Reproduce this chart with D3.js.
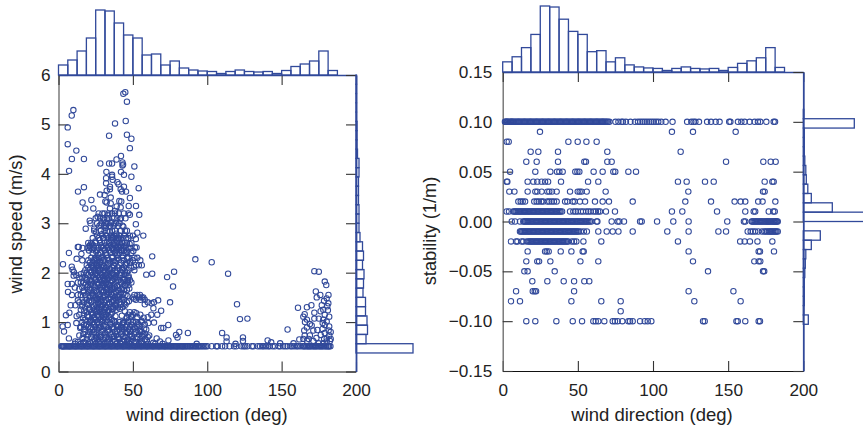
<!DOCTYPE html>
<html>
<head>
<meta charset="utf-8">
<script src="https://cdn.jsdelivr.net/npm/d3@7"></script>
<style>
html, body { margin: 0; padding: 0; background: #fff; overflow: hidden; }
text { font-family: "Liberation Sans", Arial, sans-serif; fill: #222; }
</style>
</head>
<body>
<svg id="canvas"></svg>
<script>
let width = 863
let height = 430
let blue = "#31499a"

// histogram counts
let dirBinCounts = [20,30,48,74,130,128,104,80,74,40,42,20,28,14,10,8,7,3,7,10,7,6,7,3,9,17,22,28,48,9]
let speedBinCounts = [0,0,114,20,23,22,19,19,14,15,16,13,15,13,8,6,6,6,5,5,5,6,6,3,2,2,2,1,1,1,1,1]
let stabBinCounts = [0,0,0,0,0,10,1,2,2,2,3,4,5,16,34,0,400,58,16,9,6,5,3,2,2,2,102,1,0,0,0,0]

// left panel: scattered points [direction, speed]
let speedPoints = [
[44.9,5.65],[43.6,5.62],[46,5.46],[10,5.29],[8.9,5.18],[45.2,5.07],[38,5.02],[6.2,4.94],[46,4.79],[49,4.71],[34,4.77],[6.2,4.6],[48,4.52],[12,4.47],[42,4.36],[39,4.29],[9,4.3],[17.1,4.3],[28.1,4.21],[34,4.21],[36,4.21],[43,4.23],[43.4,4.19],[43,4.17],[51,4.15],[7.1,4.06],[32.2,4.04],[42,4.04],[36,3.98],[36,3.94],[44,3.98],[49,3.94],[32,3.91],[36.4,3.88],[32,3.81],[39.6,3.83],[40.4,3.79],[17.1,3.73],[13.1,3.64],[34.6,3.74],[44,3.74],[41.8,3.69],[42.7,3.64],[45.4,3.64],[53.9,3.71],[27.9,3.58],[31,3.57],[32.4,3.66],[34.6,3.69],[48,3.51],[22.1,3.47],[16.2,3.42],[31.5,3.44],[32.4,3.42],[40.9,3.45],[42.2,3.44],[18,3.3],[23.4,3.3],[34.6,3.3],[39.1,3.34],[41.8,3.32],[47.2,3.35],[52.1,3.35],[35.1,3.52],[35.1,3.4],[38,3.25],
[21,3.05],[18.3,2.89],[24,2.89],[3,2.17],[7,2.4],[13,2.52],[13.6,2.52],[16.2,2.5],[12.2,2.28],[15.4,2.38],[16,2.25],[8.9,2.12],[9.5,2.06],[10.4,2.01],[10.2,1.94],[15,1.97],[6.2,1.77],[9,1.77],[6.4,1.61],[9,1.55],[13,1.55],[14,1.67],[8.2,1.34],[13,1.44],[11.3,1.34],[7.3,1.19],[5,1.14],[12.2,1.12],[12,0.98],[6.2,0.94],[2.8,0.91],[3.7,0.81],[7,0.67],[14,0.73],[11.3,0.61],[16.7,0.76],[17.1,0.94],
[92,2.27],[103,2.21],[63,2.33],[77.7,2.02],[73,1.91],[77,1.72],[75,1.4],[67,1.44],[63,1.98],[59,1.96],[57,2.75],[52,2.98],[53,2.81],[52,2.68],[51.4,2.51],[52.5,2.51],[50.3,2.44],[44.7,2.85],[54.3,3.17],[48,3.17],
[69,1.23],[66.4,1.15],[62.4,1.15],[63.8,1.28],[62.6,1.38],[64.2,1.4],[58,1.36],[57,1.5],[54.8,1.55],[50.8,1.47],[57.3,1.09],[64.2,0.99],[60.4,0.98],[73.8,0.94],[70.5,0.88],[69,0.88],[81.2,0.8],[79,0.74],[80,0.69],[87,0.78],[73.9,0.63],[66,0.67],[61,0.73],[68.2,0.61],[92.9,0.56],
[114,1.98],[120,1.36],[122,1.06],[127,1.07],[110,0.78],[113,0.69],[113,0.61],[119,0.56],[124,0.69],[124,0.62],[140.6,0.63],[143,0.59],[149,0.57],[154,0.85],
[161,1.29],[167,1.3],[170,1.34],[172,2.03],[175,2.02],[179,1.82],[180,1.75],[173,1.62],[176,1.55],[181.5,1.55],[180.3,1.48],[173.6,1.5],[178.5,1.43],[177,1.34],[180.7,1.32],[178,1.25],[172,1.19],[165.5,1.16],[164.6,1.11],[167,1.05],[169,0.96],[165.7,1],[167,0.89],[172,1.07],[175,1.07],[179,1.15],[182,1.11],[178,1.05],[180.3,1.01],[182,0.91],[179,0.94],[177.5,0.86],[171.3,0.83],[174,0.84],[179,0.78],[182,0.73],[180.3,0.67],[182.5,0.62],[180.3,0.61],[165.5,0.73],[169,0.73],[161.9,0.65],[164.6,0.66],[167,0.62],[168.2,0.66],[171.3,0.62],[158,0.57],[175,0.57],[178,0.57]
]

// left panel: more of the cloud, points between the levels below
let cloudExtra = [
[26.3,3.13],[30.7,3.07],[33.2,3.16],[35.6,3.03],[28.4,2.97],[31.8,2.91],[37.4,2.98],[41.3,3.08],[43.6,2.93],[25.2,2.82],[29.1,2.78],[34.3,2.83],[38.9,2.79],[36.7,2.72],[40.8,2.67],[42.6,2.61],[39.3,2.63],[37.1,2.57],[35.2,2.66],[32.8,2.62],[30.4,2.71],[27.6,2.66],[24.7,2.63],[22.6,2.57],[20.8,2.53],[22.9,2.47],[25.3,2.43],[28.7,2.52],[31.2,2.47],[33.7,2.53],[36.4,2.48],[38.2,2.43],[40.3,2.52],[42.4,2.46],[44.2,2.53],[46.3,2.42],[47.8,2.58],[26.8,2.37],[29.6,2.33],[32.3,2.36],[35.8,2.32],[39.4,2.37],[43.3,2.34],[46.2,2.29],[24.3,2.28],[28.1,2.22],[30.8,2.27],[33.4,2.18],[36.8,2.23],[40.7,2.26],[45.2,2.17],[48.3,2.23],[50.7,2.12],[22.8,2.13],[25.7,2.16],[27.9,2.08],[30.6,2.13],[34.7,2.07],[37.3,2.14],[39.6,2.03],[42.7,2.09],[21.8,2.02],[24.6,1.97],[26.7,2.03],[29.3,1.96],[31.6,2.04],[34.2,1.93],[36.4,1.98],[38.7,1.92],[41.3,1.96],[44.6,2.03],[47.2,1.93],[18.7,1.88],[22.3,1.83],[25.2,1.87],[27.8,1.92],[30.7,1.83],[33.1,1.88],[35.7,1.83],[37.6,1.87],[41.8,1.82],[44.3,1.87],[46.6,1.82],[19.6,1.72],[21.8,1.77],[24.3,1.72],[26.8,1.78],[29.2,1.72],[31.7,1.77],[34.6,1.72],[37.2,1.67],[39.3,1.73],[42.4,1.67],[44.8,1.73],[47.6,1.68],[16.8,1.63],[22.6,1.58],[25.6,1.63],[27.7,1.57],[30.3,1.63],[32.8,1.67],[35.3,1.57],[38.2,1.62],[40.6,1.52],[43.7,1.58],[46.3,1.53],[18.3,1.48],[20.6,1.43],[23.2,1.53],[26.4,1.47],[28.6,1.42],[30.9,1.52],[33.6,1.47],[36.7,1.43],[38.8,1.38],[41.7,1.47],[44.2,1.37],[47.3,1.42],[15.7,1.32],[19.2,1.37],[23.8,1.33],[26.7,1.38],[29.3,1.33],[31.8,1.28],[34.3,1.37],[36.6,1.27],[38.4,1.32],[41.2,1.27],[44.6,1.22],[17.3,1.23],[20.7,1.27],[23.3,1.18],[25.8,1.22],[28.4,1.27],[30.7,1.17],[33.2,1.23],[35.6,1.17],[38.3,1.12],[42.6,1.13],[45.8,1.08],[48.7,1.12],[52.3,1.18],[55.8,1.03],[16.4,1.08],[19.3,1.13],[21.7,1.03],[24.2,1.08],[26.6,1.13],[29.4,1.03],[31.8,1.07],[34.7,0.97],[37.2,1.02],[40.3,0.93],[43.2,0.98],[46.7,1.03],[49.8,0.93],[53.2,0.97],[57.6,0.87],[14.6,0.88],[18.4,0.93],[21.3,0.87],[23.8,0.97],[27.3,0.88],[30.2,0.92],[33.4,0.83],[36.3,0.87],[39.2,0.82],[42.6,0.87],[45.3,0.78],[48.2,0.83],[51.3,0.87],[54.6,0.82],[58.3,0.76],[16.2,0.68],[19.6,0.73],[22.7,0.77],[25.2,0.68],[28.3,0.73],[31.4,0.78],[34.2,0.67],[37.3,0.72],[40.6,0.67],[43.7,0.72],[46.4,0.63],[49.3,0.72],[52.6,0.67],[56.2,0.72],[59.4,0.63],[63.7,0.58],[18.2,0.58],[24.6,0.62],[30.3,0.57],[36.2,0.62],[41.3,0.58],[47.3,0.57],[51.2,0.6],[55.3,0.58],[165.2,0.83],[170.2,0.93],[173.4,0.68],[176.3,0.74],[178.6,0.66],[181.6,0.83],[181.1,1.24],[176.2,1.22],[181.4,1.38],[177.6,0.98],[183,0.8],[183,0.66]
]

// left panel: the dense cloud, one list of directions per speed level
let cloudSpeeds = [3.2,3.1,3,2.95,2.85,2.75,2.7,2.6,2.55,2.5,2.45,2.4,2.3,2.25,2.2,2.15,2.1,2.05,2,1.95,1.9,1.85,1.8,1.75,1.7,1.65,1.6,1.55,1.5,1.45,1.4,1.35,1.3,1.25,1.2,1.15,1.1,1.05,1,0.95,0.9,0.85,0.8,0.75,0.7,0.65,0.6,0.56,0.51,0.51]
let cloudDirs = [
[27,29.5,31,33.5,36,38,40.5,44,47],
[25,28,30,32.5,34,37,39.5,42,45],
[21.5,26,29,31.5,33,35.5,38.5,41],
[27.5,30.5,32,34.5,37,40,43],
[24,28.5,31,33,36,38,42,46],
[26,29.5,32,35,37.5,39,41.5,44,48,50],
[23,27,30,33.5,36,38.5,40,43,45.5,47],
[20,22,25,28,31,34,37,39,41,43,44.5,46,49],
[21,23.5,29,32,35,38,40,42,45],
[19.5,21.5,24,27,30,33,36,38.5,41,43,47,48.5],
[20.5,26,31,34,37,39.5,42,44,46],
[23,28,32,35,38,41,45,49],
[22,25,27,29,33,36,40,43,47,51,53],
[20,24,26,30,34,39,44,50,55],
[21,23,25.5,28,31,35,38,42,46,48],
[19,22,24,27,29,33,37,41,45,52,54,56],
[20,23,25,26.5,29.5,32,36,40,44,49],
[18,21,24,27,30,34,38,43,47,51],
[17,19,22,25,28,31,33,36,39,42,46],
[12,20,23,26,29,32,35,37,41,45],
[14,16,18,24,27,30,34,38,43,47],
[19,21,25,28,31,33,36,40,44,48],
[13,15,17,22,26,29,32,35,39,42,46,49],
[18,20,23,27,30,34,37,41,45,47],
[11,16,19,25,28,31,33,36,38,43],
[21,24,29,32,35,40,44,46],
[17,20,22,26,30,34,37,39,42],
[15,18,23,27,31,33,36,41,45,51,53],
[21,25,28,30,35,38,40,43,50,54,56],
[19,24,26,29,32,37,39,44,52,55,58],
[14,17,22,27,31,34,36,41,46,60],
[16,20,25,28,30,33,38,42,45],
[18,23,26,29,32,35,37,40,43],
[15,21,24,27,31,34,39],
[19,22,25,28,30,33,36,48,51],
[14,17,23,26,29,32,35,47,50,55],
[20,24,27,31,34,46,49,53,60],
[18,22,25,28,30,36],
[16,21,23,26,29,33,38,41,44,47,50,52,56],
[19,24,27,31,35,39,43,46,49,54,58],
[15,20,22,25,28,32,36,40,42,45,48,51,53],
[17,23,26,30,34,37,41,44,47,50,55,59],
[18,21,24,29,33,38,43,46,52,56],
[20,25,27,31,35,39,42,48,51,54,57],
[22,26,28,32,36,40,45,49,53,60],
[19,24,30,34,37,41,44,47,50,55,58],
[13,17,21,23,27,29,33,38,43,46,52,56],
[11,15,20,25,28,31,35,39,42,48,54,60,65,70],
[2,3,4,5.5,7,8,9.5,11,12,13.5,15,16,17.5,19,20,21.5,23,24,25.5,27,28,29.5,31,32,33.5,35,36,37.5,39,40,41.5,43,44,45.5,47,48,49.5,51,52,53.5,55,56,57.5,59,60,61.5,63,64,65.5,67,68,69.5,71,72,73.5,75,76,77.5,79,80,81.5,83,84,85.5,87,88,89.5,91,92,93.5,95,97,98,100,103,106,107,110,112,115,118,119.5,123,124.5,125.5,127,130,131,134,135.5,137,138,139.5,141,142,144,145.5,148,149,151,152.5,154,156,157,158.5,160,161,162.5,164,165,166.5,168,169,170.5,172,173,174.5,176,177,178.5,180,181,182,182.8],
[2.5,3.5,4.8,6.2,7.5,8.7,10.2,11.5,12.8,14.2,15.5,16.8,18.2,19.5,20.8,22.2,23.5,24.8,26.2,27.5,28.8,30.2,31.5,32.8,34.2,35.5,36.8,38.2,39.5,40.8,42.2,43.5,44.8,46.2,47.5,48.8,50.2,51.5,52.8,54.2,55.5,56.8,58.2,59.5,60.8,62.2,63.5,64.8,66.2,67.5,68.8,70.2,71.5,72.8,74.2,75.5,76.8,78.2,79.5,80.8,82.2,83.5,84.8,86.2,88.5,90.2,92.5,94.2,96,99,165.5,167.5,169.5,171.5,173.5,175.5,177.5,179.5,181.5]
]

// right panel: one list of directions per stability level
// the repeated levels at the end hold the extra points of the solid runs
let stabLevels = [0.10,0.09,0.08,0.07,0.06,0.05,0.04,0.03,0.02,0.01,0,-0.01,-0.02,-0.03,-0.04,-0.05,-0.06,-0.07,-0.08,-0.09,-0.10,0.10,0.01,0,-0.01,-0.02]
let stabDirs = [
[1.5,2.5,3.5,5,6,7,8.5,10,11,12.5,14,15,16.5,18,19,20.5,22,23,24.5,26,27,28.5,30,31,32.5,34,35,36.5,38,39,40.5,42,43,44.5,46,47,48.5,50,51,52.5,54,55,56.5,58,59,60.5,62,63,64.5,66,67,68.5,70,71,75,77,79,80,82,85,88,90,91.5,93,94.5,96,97.5,99,100.5,102,103.5,105.5,108.4,113,122.7,125.5,127,128.2,130.6,136,138.6,141.7,144.3,150.7,151.5,156.5,158.8,161,164.3,167.6,169.8,171.4,175.4,180.3,181.2],
[24.8,112.6,126.6,155],
[2.7,4,43.7,49.9,55.7,62.5],
[18.6,23.7,36.8,69.6,118.4],
[15.7,22.6,36.8,54.3,55.4,69.6,72.5,148.6,173.4,178.3,181.6],
[4.9,21.7,31.7,36.1,37.7,39.9,48.3,49.7,51,60.5,66.5,73.6,74.9,83.6,88.7],
[2.7,3.1,16.6,20.4,23,25.9,28.2,30.2,38.8,56.8,63.6,116.6,122.4,134.6,140.4,174.3,179.4,180.3],
[4.4,7.8,16.6,21.7,23,25.9,29.7,31,32.8,35.9,44.8,49.9,51.2,52.5,55.9,68.5,123.5,173.2,174.3],
[10.4,12,13.3,14.9,21,22.6,24,25.7,27,29.7,31,32.6,34.1,35.9,41.5,43,46.6,47.9,51.4,54.8,61.4,66.5,70.7,86.5,121.5,138.6,154.3,158.3,161.4,170,172.9,181.4],
[2.6,4.2,7,8.5,10,11.5,13,14.5,16,17.5,19,20.5,22,23.5,25,26.5,28,29.5,31,32.5,34,35.5,37,38.5,39.5,44.8,47,48.5,50,52,53.5,55.5,57,58.5,60.5,62,63.5,64.7,68.7,74.7,112.6,119.5,142.6,161.4,167,168,177,180,181],
[6,8.2,11.5,13.7,15,16.5,18,19.5,21,22.5,24,25.5,27,28.5,30,31.5,33,34.5,36,37.5,39,40.5,42,43.5,45,46.5,48,49.5,51,52.5,54,55.5,57,59,62.5,63,72.5,76.5,77.6,80.7,91.4,92.5,102.7,113.5,123.7,149.4,160.5,161.4,165.7,167,168.5,170,171.5,173,174.5,176,177,178.5,180,181,182,183],
[11.5,13,14.5,16,17.5,19,20.5,22,23.5,25,26.5,28,29.5,31,32.5,34,35.5,37,38.5,40,41.5,43,44.5,46,47.5,49,50.5,52,54,56,63.6,69.2,73.2,77,86.5,109.5,123.7,143.5,148.6,163,165,166.5,168,170,172.5,174,175,177,178.5,180,181.5,183],
[5.5,8.9,9.8,12.6,13.7,16,18,19.5,21,22.5,24,25.5,27,28.5,30,31.5,33,34.5,36,37.5,39,40.5,42,43.5,46,47.5,49,53.7,65.6,116.6,158,161,164.5,169.5,179.4],
[16.6,28.2,29.3,30.6,38.6,45.7,53.2,53.9,123.7,170.3,171.2,180.5],
[15.7,23,24.2,31.7,51.7,63.6,126.6,167.4,170.3,171.4],
[14.4,16.6,34.6,136.6,173.2,174],
[19.7,29.7,40.6,47.5,54.3,57.6],
[8.9,20,21.3,22.2,47.5,123.7,153.5],
[5.5,11.5,45.7,65.6,78.5,127.5,158.3],
[78.5],
[15.7,21.7,35.7,46.6,52.8,60.3,61.9,63.6,67.6,73.2,74.7,76.5,79.6,83.6,84.7,86.5,91.4,94.5,96.5,98.9,133.3,134.4,155.5,156.4,161.4,170.3,171.2],
[2,3,4.3,5.5,6.5,7.8,9.2,10.5,11.8,13.2,14.5,15.8,17.2,18.5,19.8,21.2,22.5,23.8,25.2,26.5,27.8,29.2,30.5,31.8,33.2,34.5,35.8,37.2,38.5,39.8,41.2,42.5,43.8,45.2,46.5,47.8,49.2,50.5,51.8,53.2,54.5,55.8,57.2,58.5,59.8,61.2,62.5,63.8,65.2,66.5,67.8,69.2],
[7.8,9.2,10.8,12.2,13.8,15.2,16.8,18.2,19.8,21.2,22.8,24.2,25.8,27.2,28.8,30.2,31.8,33.2,34.8,36.2,37.8],
[14.3,15.8,17.2,18.8,20.2,21.8,23.2,24.8,26.2,27.8,29.2,30.8,32.2,33.8,35.2,36.8,38.2,39.8,41.2,42.8,44.2,45.8,47.2,48.8,50.2,51.8,53.2,54.8,56.2,58,166.2,167.8,169.2,170.8,172.2,173.8,175.2,176.5,177.8,179.2,180.5,181.5,182.5],
[12.2,13.8,15.2,16.8,18.2,19.8,21.2,22.8,24.2,25.8,27.2,28.8,30.2,31.8,33.2,34.8,36.2,37.8,39.2,40.8,42.2,43.8,45.2,46.8,48.2,49.8,176,177.8,179.2,180.8,182.2],
[17.2,18.8,20.2,21.8,23.2,24.8,26.2,27.8,29.2,30.8,32.2,33.8,35.2,36.8,38.2,39.8,41.2,42.8]
]

let speedTicks = [0,1,2,3,4,5,6]
let stabTicks = [-0.15,-0.10,-0.05,0,0.05,0.10,0.15]
let dirTicks = [0,50,100,150,200]
let dirBinSize = 6.25
let speedBinSize = 0.1875
let stabBinSize = 0.009375

let canvas = d3.select("#canvas")
    .attr("width", width)
    .attr("height", height)

let buildPoints = (levels, lists) => {
    let out = []
    levels.forEach((level, i) => {
        lists[i].forEach(dir => out.push([dir, level]))
    })
    return out
}

let drawPanel = (opt) => {
    let xScale = d3.scaleLinear().domain([0, 200]).range(opt.xRange)
    let yScale = d3.scaleLinear().domain(opt.yDomain).range(opt.yRange)
    let topScale = d3.scaleLinear().domain([0, 130]).range([opt.yRange[1], opt.yRange[1] - opt.topHeight])
    let sideScale = d3.scaleLinear().domain([0, 100]).range([opt.xRange[1], opt.xRange[1] + 50])

    let xAxis = d3.axisBottom(xScale).tickValues(dirTicks).tickSize(-10).tickPadding(12.5).tickSizeOuter(0)
    let yAxis = d3.axisLeft(yScale).tickValues(opt.yTicks).tickFormat(opt.yFormat).tickSize(-10).tickPadding(opt.yPad).tickSizeOuter(0)
    let topAxis = d3.axisTop(xScale).tickValues(dirTicks).tickSize(-10).tickFormat("").tickSizeOuter(0)
    let rightAxis = d3.axisRight(yScale).tickValues(opt.yTicks).tickSize(-10).tickFormat("").tickSizeOuter(0)

    let g = canvas.append("g")

    let bottomG = g.append("g").attr("transform", "translate(0," + opt.yRange[0] + ")").call(xAxis)
    let leftG = g.append("g").attr("transform", "translate(" + opt.xRange[0] + ",0)").call(yAxis)
    let topG = g.append("g").attr("transform", "translate(0," + opt.yRange[1] + ")").call(topAxis)
    let rightG = g.append("g").attr("transform", "translate(" + opt.xRange[1] + ",0)").call(rightAxis)

    bottomG.selectAll("text").style("font-size", "17.2px")
    leftG.selectAll("text").style("font-size", "17.2px")
    ;[bottomG, leftG, topG, rightG].forEach(a => {
        a.selectAll("line").attr("stroke", "#333").attr("stroke-width", 1.1)
    })
    bottomG.select(".domain").attr("stroke", "#111").attr("stroke-width", 1.2)
    leftG.select(".domain").attr("stroke", "#666").attr("stroke-width", 1.3)
    topG.select(".domain").attr("stroke", blue).attr("stroke-width", 1.4)
    rightG.select(".domain").attr("stroke", blue).attr("stroke-width", 1.8)

    g.append("g").selectAll("circle")
        .data(opt.points)
        .enter()
        .append("circle")
        .attr("cx", d => xScale(d[0]))
        .attr("cy", d => yScale(d[1]))
        .attr("r", 2.7)
        .attr("fill", "none")
        .attr("stroke", blue)
        .attr("stroke-width", 1.05)

    g.append("g").selectAll("rect")
        .data(dirBinCounts)
        .enter()
        .append("rect")
        .attr("x", (d, i) => xScale(i * dirBinSize))
        .attr("y", d => topScale(d))
        .attr("width", (d, i) => xScale((i + 1) * dirBinSize) - xScale(i * dirBinSize))
        .attr("height", d => topScale(0) - topScale(d))
        .attr("fill", "none")
        .attr("stroke", blue)
        .attr("stroke-width", 1.3)

    g.append("g").selectAll("rect")
        .data(opt.sideCounts)
        .enter()
        .append("rect")
        .attr("x", xScale(200))
        .attr("y", (d, i) => yScale(opt.yDomain[0] + (i + 1) * opt.sideBinSize))
        .attr("width", d => sideScale(d) - sideScale(0))
        .attr("height", (d, i) => yScale(opt.yDomain[0] + i * opt.sideBinSize) - yScale(opt.yDomain[0] + (i + 1) * opt.sideBinSize))
        .attr("fill", "none")
        .attr("stroke", blue)
        .attr("stroke-width", 1.3)

    g.append("text")
        .attr("x", opt.xLabelX)
        .attr("y", 421)
        .attr("text-anchor", "middle")
        .style("font-size", "18.5px")
        .text("wind direction (deg)")

    g.append("text")
        .attr("transform", "translate(" + opt.yLabelX + "," + opt.yLabelY + ") rotate(-90)")
        .attr("text-anchor", "middle")
        .style("font-size", "18.3px")
        .text(opt.yLabel)
}

drawPanel({
    xRange: [58.5, 356],
    yRange: [371.5, 75],
    yDomain: [0, 6],
    yTicks: speedTicks,
    yFormat: d3.format("d"),
    yPad: 8,
    yLabel: "wind speed (m/s)",
    yLabelX: 22,
    yLabelY: 224,
    xLabelX: 207,
    topHeight: 65,
    points: speedPoints.concat(cloudExtra, buildPoints(cloudSpeeds, cloudDirs)),
    sideCounts: speedBinCounts,
    sideBinSize: speedBinSize
})

drawPanel({
    xRange: [502.7, 803.3],
    yRange: [371, 72],
    yDomain: [-0.15, 0.15],
    yTicks: stabTicks,
    yFormat: d3.format(".2f"),
    yPad: 10.5,
    yLabel: "stability (1/m)",
    yLabelX: 436,
    yLabelY: 231,
    xLabelX: 652,
    topHeight: 66,
    points: buildPoints(stabLevels, stabDirs),
    sideCounts: stabBinCounts,
    sideBinSize: stabBinSize
})
</script>
</body>
</html>
